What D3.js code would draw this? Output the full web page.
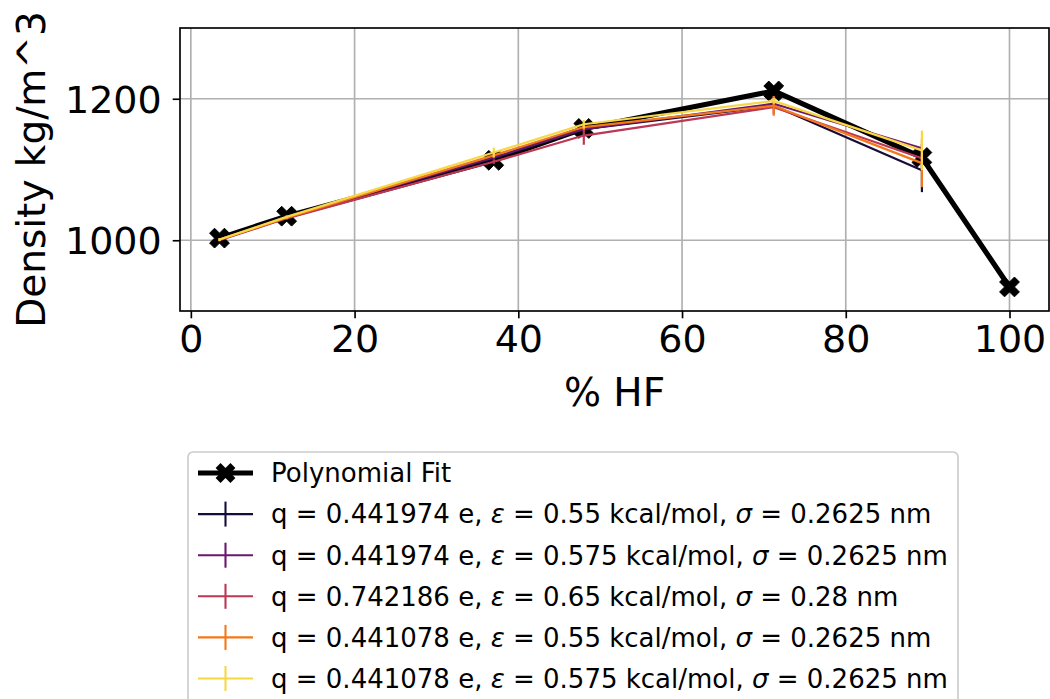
<!DOCTYPE html>
<html><head><meta charset="utf-8">
<script src="https://cdn.jsdelivr.net/npm/d3@7"></script>
<style>body{margin:0;background:#fff}svg{display:block}text{font-family:"DejaVu Sans",sans-serif}</style>
</head><body><svg id="c" width="1050" height="699"></svg>
<script>
// ---- data ----
const fitX = [3.5, 11.7, 37, 48, 71.2, 89.3, 100];
const fitY = [1003, 1034, 1113, 1158, 1211, 1117, 934];
const seriesX = [3.5, 11.7, 37, 48, 71.2, 89.3];
const seriesLabels = [
  ["q = 0.441974 e, ", "0.55", "0.2625"],
  ["q = 0.441974 e, ", "0.575", "0.2625"],
  ["q = 0.742186 e, ", "0.65", "0.28"],
  ["q = 0.441078 e, ", "0.55", "0.2625"],
  ["q = 0.441078 e, ", "0.575", "0.2625"]
];
const s1Y = [1001, 1032, 1116, 1157, 1190, 1099];
const s2Y = [1001, 1033, 1117, 1157, 1193, 1130];
const s3Y = [1000, 1031, 1111, 1148, 1188, 1116];
const s4Y = [1001, 1032, 1120, 1160, 1190, 1109];
const s5Y = [1001, 1033, 1124, 1164, 1197, 1127];
const s1Err = [2, 2, 3, 3, 4, 31];
const s2Err = [2, 2, 3, 3, 4, 6];
const s3Err = [2, 2, 3, 13, 10, 6];
const s4Err = [2, 2, 3, 4, 14, 34];
const s5Err = [2, 2, 7, 6, 4, 28];
const xTicks = [0, 20, 40, 60, 80, 100];
const yTicks = [1000, 1200];
const xLabel = "% HF";
const yLabel = "Density kg/m^3";
const fitLabel = "Polynomial Fit";

const seriesY = [s1Y, s2Y, s3Y, s4Y, s5Y];
const seriesErr = [s1Err, s2Err, s3Err, s4Err, s5Err];
const colorT = [0.1, 0.3, 0.5, 0.7, 0.9];

// ---- layout ----
const L = 180, R = 1049, T = 28, B = 311;
const svg = d3.select("#c");
const x = d3.scaleLinear().domain([-1.325, 104.825]).range([L, R]);
const y = d3.scaleLinear().domain([900, 1300]).range([B, T]);
const lw = 1.67;
const tickFs = 38, labelFs = 39;

// grid
const g = svg.append("g");
g.selectAll(".gx").data(xTicks).join("line")
  .attr("x1", d => x(d)).attr("x2", d => x(d)).attr("y1", T).attr("y2", B)
  .attr("stroke", "#b0b0b0").attr("stroke-width", lw);
g.selectAll(".gy").data(yTicks).join("line")
  .attr("y1", d => y(d)).attr("y2", d => y(d)).attr("x1", L).attr("x2", R)
  .attr("stroke", "#b0b0b0").attr("stroke-width", lw);

// axes
const xAxis = d3.axisBottom(x).tickValues(xTicks).tickFormat(d3.format("d")).tickSize(7.3).tickPadding(7);
const yAxis = d3.axisLeft(y).tickValues(yTicks).tickFormat(d3.format("d")).tickSize(7.3).tickPadding(11);
const gx = svg.append("g").attr("transform", `translate(0,${B})`).call(xAxis);
const gy = svg.append("g").attr("transform", `translate(${L},0)`).call(yAxis);
[gx, gy].forEach(a => {
  a.select(".domain").remove();
  a.selectAll(".tick line").attr("stroke", "#000").attr("stroke-width", lw);
  a.selectAll(".tick text").attr("fill", "#000").attr("font-size", tickFs)
    .attr("font-family", "DejaVu Sans");
});
gx.selectAll(".tick text").attr("dy", "0.71em");
gy.selectAll(".tick text").attr("dy", "0.36em");

// clip
svg.append("clipPath").attr("id", "clip").append("rect")
  .attr("x", L).attr("y", T).attr("width", R - L).attr("height", B - T);
const plot = svg.append("g").attr("clip-path", "url(#clip)");

// X marker path (matplotlib 'X')
function xMarker(S) {
  const a = S / 2, b = S / 6;
  const pts = [[b, b], [a, b], [a, -b], [b, -b], [b, -a], [-b, -a], [-b, -b], [-a, -b], [-a, b], [-b, b], [-b, a], [b, a]];
  const r = pts.map(([px, py]) => [(px - py) / Math.SQRT2, (px + py) / Math.SQRT2]);
  return "M" + r.map(p => p.join(",")).join("L") + "Z";
}

// fit line
const fitData = fitX.map((d, i) => [d, fitY[i]]);
const line = d3.line().x(d => x(d[0])).y(d => y(d[1]));
plot.append("path").datum(fitData).attr("d", line)
  .attr("fill", "none").attr("stroke", "#000").attr("stroke-width", 5.2)
  .attr("stroke-linejoin", "round").attr("stroke-linecap", "butt");
plot.selectAll(".fm").data(fitData).join("path")
  .attr("transform", d => `translate(${x(d[0])},${y(d[1])})`)
  .attr("d", xMarker(21)).attr("fill", "#000").attr("stroke", "#000").attr("stroke-width", 1);

// series
seriesY.forEach((ys, k) => {
  const col = d3.interpolateInferno(colorT[k]);
  const data = seriesX.map((d, i) => [d, ys[i], seriesErr[k][i]]);
  plot.append("path").datum(data).attr("d", line)
    .attr("fill", "none").attr("stroke", col).attr("stroke-width", 2.2)
    .attr("stroke-linejoin", "round");
  plot.selectAll(".eb" + k).data(data).join("line")
    .attr("x1", d => x(d[0])).attr("x2", d => x(d[0]))
    .attr("y1", d => y(d[1] - d[2])).attr("y2", d => y(d[1] + d[2]))
    .attr("stroke", col).attr("stroke-width", 2.2);
});

// frame
svg.append("rect").attr("x", L).attr("y", T).attr("width", R - L).attr("height", B - T)
  .attr("fill", "none").attr("stroke", "#000").attr("stroke-width", lw);

// axis labels
svg.append("text").attr("x", (L + R) / 2).attr("y", 406).attr("text-anchor", "middle")
  .attr("font-size", labelFs).text(xLabel);
svg.append("text").attr("transform", `translate(45,${(T + B) / 2}) rotate(-90)`)
  .attr("text-anchor", "middle").attr("font-size", labelFs).text(yLabel);

// legend
const lg = svg.append("g");
lg.append("rect").attr("x", 188).attr("y", 452).attr("width", 770).attr("height", 300)
  .attr("rx", 5).attr("fill", "#fff").attr("fill-opacity", 0.8)
  .attr("stroke", "#cccccc").attr("stroke-width", 1.67);
const rowY = i => 473 + i * 41.1;
const fs = 26;
const hx1 = 198, hx2 = 253, tx = 271;
lg.append("line").attr("x1", hx1).attr("x2", hx2).attr("y1", rowY(0)).attr("y2", rowY(0))
  .attr("stroke", "#000").attr("stroke-width", 5.2);
lg.append("path").attr("transform", `translate(${(hx1 + hx2) / 2},${rowY(0)})`)
  .attr("d", xMarker(21)).attr("fill", "#000");
lg.append("text").attr("x", tx).attr("y", rowY(0)).attr("dy", "0.36em")
  .attr("font-size", fs).text(fitLabel);
seriesLabels.forEach((lab, k) => {
  const col = d3.interpolateInferno(colorT[k]);
  const cy = rowY(k + 1);
  lg.append("line").attr("x1", hx1).attr("x2", hx2).attr("y1", cy).attr("y2", cy)
    .attr("stroke", col).attr("stroke-width", 2.1);
  lg.append("line").attr("x1", (hx1 + hx2) / 2).attr("x2", (hx1 + hx2) / 2)
    .attr("y1", cy - 12.5).attr("y2", cy + 12.5).attr("stroke", col).attr("stroke-width", 2.1);
  const t = lg.append("text").attr("x", tx).attr("y", cy).attr("dy", "0.36em").attr("font-size", fs);
  t.append("tspan").text(lab[0]);
  t.append("tspan").attr("font-style", "italic").text("ε");
  t.append("tspan").text(" = " + lab[1] + " kcal/mol, ");
  t.append("tspan").attr("font-style", "italic").text("σ");
  t.append("tspan").text(" = " + lab[2] + " nm");
});
</script></body></html>
